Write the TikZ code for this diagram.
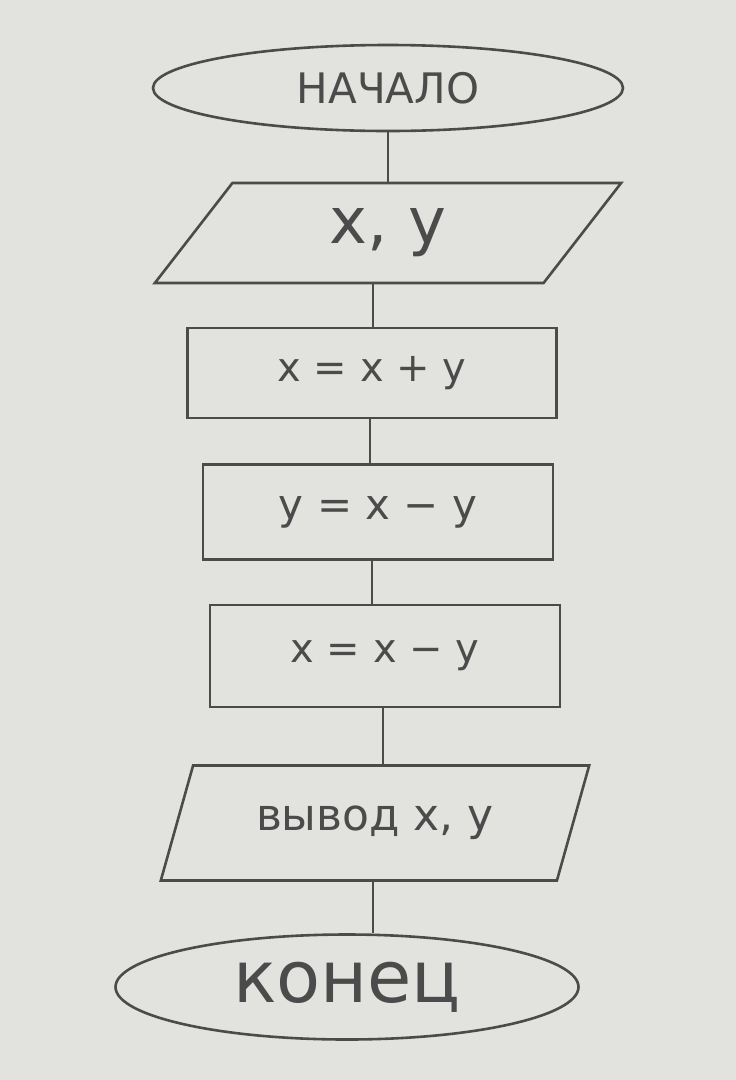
\documentclass[tikz,border=0pt]{standalone}
\usepackage{fontspec}
\setmainfont{DejaVu Sans}
\usetikzlibrary{shapes.geometric}
\definecolor{paper}{RGB}{226,226,223}
\definecolor{pencil}{RGB}{75,75,75}
\tikzset{
  pen/.style={draw=pencil, line width=2.6pt, text=pencil},
  term/.style={pen, ellipse, inner sep=0pt},
  io/.style={pen, trapezium, trapezium stretches=true, inner sep=0pt},
  proc/.style={pen, rectangle, inner sep=0pt},
  link/.style={draw=pencil, line width=2.6pt}
}
\begin{document}
\begin{tikzpicture}[x=1pt,y=-1pt]
\fill[paper] (0,0) rectangle (736,1080);
\useasboundingbox (0,0) rectangle (736,1080);

\node[term, minimum width=470pt, minimum height=86pt, font=\fontsize{42}{46}\selectfont] (start) at (388,88) {НАЧАЛО};
\node[io, trapezium left angle=59, trapezium right angle=121, minimum width=467pt, minimum height=100pt, font=\fontsize{64}{70}\selectfont] (in) at (388,233) {x, y};
\node[proc, minimum width=369pt, minimum height=90pt, font=\fontsize{40}{44}\selectfont] (p1) at (372,373) {x = x + y};
\node[proc, minimum width=350pt, minimum height=95pt, font=\fontsize{42}{46}\selectfont] (p2) at (378,512) {y = x − y};
\node[proc, minimum width=350pt, minimum height=102pt, font=\fontsize{40}{44}\selectfont] (p3) at (385,656) {x = x − y};
\node[io, trapezium left angle=58, trapezium right angle=122, minimum width=430pt, minimum height=115pt, font=\fontsize{44}{48}\selectfont] (out) at (375,823) {вывод x, y};
\node[term, minimum width=463pt, minimum height=105pt, font=\fontsize{72}{76}\selectfont] (end) at (347,987) {конец};

\draw[link] (start.south) -- (start.south |- in.north);
\draw[link] ([xshift=-15pt]in.south) -- ([xshift=-15pt]in.south |- p1.north);
\draw[link] ([xshift=-2pt]p1.south) -- ([xshift=-2pt]p1.south |- p2.north);
\draw[link] ([xshift=-6pt]p2.south) -- ([xshift=-6pt]p2.south |- p3.north);
\draw[link] ([xshift=-2pt]p3.south) -- ([xshift=-2pt]p3.south |- out.north);
\draw[link] ([xshift=-2pt]out.south) -- ([xshift=-2pt]out.south |- end.north);
\end{tikzpicture}
\end{document}
